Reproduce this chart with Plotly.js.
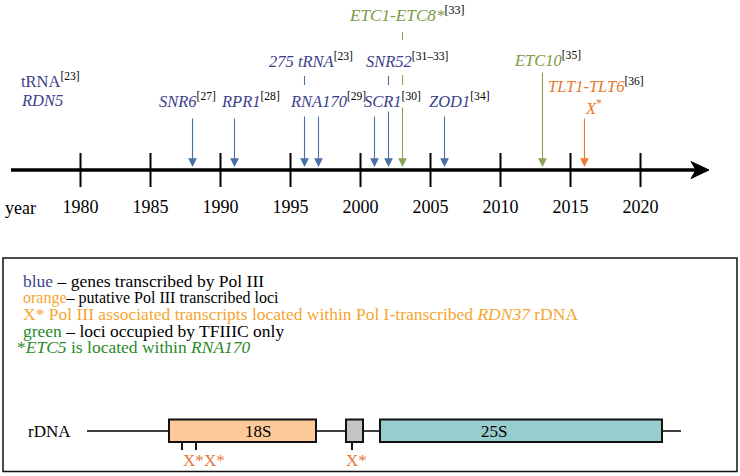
<!DOCTYPE html>
<html>
<head>
<meta charset="utf-8">
<script src="https://cdn.plot.ly/plotly-3.0.1.min.js"></script>
<style>html,body{margin:0;padding:0;background:#fff;}#chart{width:740px;height:476px;}</style>
</head>
<body>
<div id="chart"></div>
<script>
// ---------------- data ----------------
const tickYears = [1980, 1985, 1990, 1995, 2000, 2005, 2010, 2015, 2020];
const eventYears = [1988, 1991, 1996, 1997, 2001, 2002, 2003, 2006, 2013, 2016];
const eventGroup = ['blue', 'blue', 'blue', 'blue', 'blue', 'blue', 'green', 'blue', 'green', 'orange'];
const geneNames = ['SNR6', 'RPR1', '275 tRNA', 'RNA170', 'SCR1', 'SNR52', 'ETC1-ETC8*', 'ZOD1', 'ETC10', 'TLT1-TLT6'];
const geneRefs = ['[27]', '[28]', '[23]', '[29]', '[30]', '[31–33]', '[33]', '[34]', '[35]', '[36]'];
const geneGroup = ['blue', 'blue', 'blue', 'blue', 'blue', 'blue', 'green', 'blue', 'green', 'orange'];
const earlyGenes = ['tRNA', 'RDN5'];
const earlyRef = '[23]';
const legendLines = [
  ['blue', ' – genes transcribed by Pol III'],
  ['orange', '– putative Pol III transcribed loci'],
  ['X* Pol III associated transcripts located within Pol I-transcribed ', 'RDN37', ' rDNA'],
  ['green', ' – loci occupied by TFIIIC only'],
  ['*', 'ETC5', ' is located within ', 'RNA170']
];
const rdnaParts = ['18S', '', '25S'];
const rdnaMarks = ['X*', 'X*', 'X*'];

// ---------------- styles / positions ----------------
const FONT = '"Liberation Serif", "Times New Roman", serif';
const textCol = {blue: '#3c3e8c', green: '#7b9a44', orange: '#e8772e'};
const lineCol = {blue: '#4a6fa5', green: '#8aa35a', orange: '#ec7a30'};
const legCol = {blue: '#3c4a8c', orange: '#f5a530', green: '#2a8a2a'};
const W = 740, H = 476;
const P = px => px / W;           // pixel -> paper x
const X0 = 80.5, PXY = 14;        // 1980 at 80.5 px, 14 px / year
const yr = px => 1980 + (px - X0) / PXY;
const AXIS_Y = 170;

const arrowTop = [117, 117, 115, 115, 115, 110, 106, 115, 71, 117];
const dashes = {2: [[76, 85]], 5: [[76, 85]], 6: [[32, 40], [75, 85]]};
const labPos = [[157, 100], [219, 100], [267, 60], [288, 100], [362, 100], [364, 60], [347, 14], [427, 100], [512, 59], [546, 85]];
const labSize = [16.5, 16.5, 16.5, 16.5, 16.5, 16.5, 17.2, 16.5, 16.5, 16.5];

const traces = [];
const tx = [], ty = [];
tickYears.forEach(t => { tx.push(t, t, null); ty.push(153, 187, null); });
traces.push({x: tx, y: ty, mode: 'lines', line: {color: '#000', width: 2}, hoverinfo: 'skip'});
traces.push({x: tickYears, y: tickYears.map(() => 208), mode: 'text', text: tickYears.map(String),
  textfont: {family: FONT, size: 18, color: '#000'}, hoverinfo: 'skip'});

const shapes = [];
const annotations = [];
shapes.push({type: 'line', xref: 'paper', yref: 'y', x0: P(11), x1: P(698), y0: AXIS_Y, y1: AXIS_Y, line: {color: '#000', width: 3.5}});
shapes.push({type: 'path', xref: 'paper', yref: 'y',
  path: `M ${P(691)} ${AXIS_Y - 8.5} L ${P(709)} ${AXIS_Y} L ${P(691)} ${AXIS_Y + 8.5} L ${P(696)} ${AXIS_Y} Z`,
  fillcolor: '#000', line: {color: '#000', width: 1}});

eventYears.forEach((y, i) => {
  const c = lineCol[eventGroup[i]];
  annotations.push({x: y, y: AXIS_Y - 3, ax: y, ay: arrowTop[i], xref: 'x', yref: 'y', axref: 'x', ayref: 'y',
    text: '', showarrow: true, arrowhead: 2, arrowsize: 1.6, arrowwidth: 1.1, arrowcolor: c});
  (dashes[i] || []).forEach(d => shapes.push({type: 'line', xref: 'x', yref: 'y', x0: y, x1: y, y0: d[0], y1: d[1], line: {color: c, width: 1.1}}));
});

const sup = r => `<sup><span style="color:#000">${r}</span></sup>`;
geneNames.forEach((g, i) => {
  annotations.push({xref: 'paper', yref: 'y', x: P(labPos[i][0]), y: labPos[i][1], xanchor: 'left', yanchor: 'middle',
    showarrow: false, text: `<i>${g}</i>` + sup(geneRefs[i]),
    font: {family: FONT, size: labSize[i], color: textCol[geneGroup[i]]}});
});
annotations.push({xref: 'paper', yref: 'y', x: P(583), y: 107, xanchor: 'left', yanchor: 'middle', showarrow: false,
  text: '<i>X</i><sup>*</sup>', font: {family: FONT, size: 16.5, color: textCol.orange}});
annotations.push({xref: 'paper', yref: 'y', x: P(19), y: 80, xanchor: 'left', yanchor: 'middle', showarrow: false,
  text: earlyGenes[0] + sup(earlyRef), font: {family: FONT, size: 16.5, color: textCol.blue}});
annotations.push({xref: 'paper', yref: 'y', x: P(19), y: 100, xanchor: 'left', yanchor: 'middle', showarrow: false,
  text: `<i>${earlyGenes[1]}</i>`, font: {family: FONT, size: 16.5, color: textCol.blue}});
annotations.push({xref: 'paper', yref: 'y', x: P(3), y: 208, xanchor: 'left', yanchor: 'middle', showarrow: false,
  text: 'year', font: {family: FONT, size: 18, color: '#000'}});

// legend box
shapes.push({type: 'rect', xref: 'paper', yref: 'y', x0: P(3), x1: P(737), y0: 258, y1: 471.5, line: {color: '#111', width: 1.5}});
const legY = [281, 297.5, 314, 330.5, 347];
const legText = [
  `<span style="color:${legCol.blue}">${legendLines[0][0]}</span>${legendLines[0][1]}`,
  `<span style="color:${legCol.orange}">${legendLines[1][0]}</span>${legendLines[1][1]}`,
  `<span style="color:${legCol.orange}">${legendLines[2][0]}<i>${legendLines[2][1]}</i>${legendLines[2][2]}</span>`,
  `<span style="color:${legCol.green}">${legendLines[3][0]}</span>${legendLines[3][1]}`,
  `<span style="color:${legCol.green}">${legendLines[4][0]}<i>${legendLines[4][1]}</i>${legendLines[4][2]}<i>${legendLines[4][3]}</i></span>`
];
const legSize = [17.5, 16, 17.5, 17.5, 17.5];
const legX = [21, 21, 21, 21, 15];
legText.forEach((t, i) => annotations.push({xref: 'paper', yref: 'y', x: P(legX[i]), y: legY[i], xanchor: 'left', yanchor: 'middle',
  showarrow: false, text: t, font: {family: FONT, size: legSize[i], color: '#000'}}));

// rDNA diagram
const RY = 431, RT = 419.5, RB = 442;
annotations.push({xref: 'paper', yref: 'y', x: P(26), y: RY, xanchor: 'left', yanchor: 'middle', showarrow: false,
  text: 'rDNA', font: {family: FONT, size: 17, color: '#000'}});
shapes.push({type: 'line', xref: 'paper', yref: 'y', x0: P(87), x1: P(681), y0: RY, y1: RY, line: {color: '#000', width: 1.5}});
const boxes = [[169, 316, '#fdc999'], [346, 363, '#c4c4c4'], [380, 662, '#97cdcd']];
boxes.forEach((b, i) => {
  shapes.push({type: 'rect', xref: 'paper', yref: 'y', x0: P(b[0]), x1: P(b[1]), y0: RT, y1: RB, fillcolor: b[2], line: {color: '#111', width: 2}});
  if (rdnaParts[i]) annotations.push({xref: 'paper', yref: 'y', x: P(i === 2 ? 509 : (b[0] + b[1]) / 2), y: RY, showarrow: false,
    text: rdnaParts[i], font: {family: FONT, size: 17, color: '#000'}});
});
const markX = [182, 196, 352];
const markLabX = [181, 202, 356];
rdnaMarks.forEach((m, i) => {
  shapes.push({type: 'line', xref: 'paper', yref: 'y', x0: P(markX[i]), x1: P(markX[i]), y0: RB, y1: 450, line: {color: '#111', width: 2}});
  annotations.push({xref: 'paper', yref: 'y', x: P(markLabX[i]), y: 460, showarrow: false, text: m,
    font: {family: FONT, size: 17, color: '#e8773a'}});
});

const layout = {
  width: W, height: H, margin: {l: 0, r: 0, t: 0, b: 0}, showlegend: false,
  paper_bgcolor: '#fff', plot_bgcolor: '#fff',
  xaxis: {range: [yr(0), yr(W)], visible: false, fixedrange: true},
  yaxis: {range: [H, 0], visible: false, fixedrange: true},
  shapes: shapes, annotations: annotations
};
Plotly.newPlot('chart', traces, layout, {displayModeBar: false, staticPlot: true});
</script>
</body>
</html>
